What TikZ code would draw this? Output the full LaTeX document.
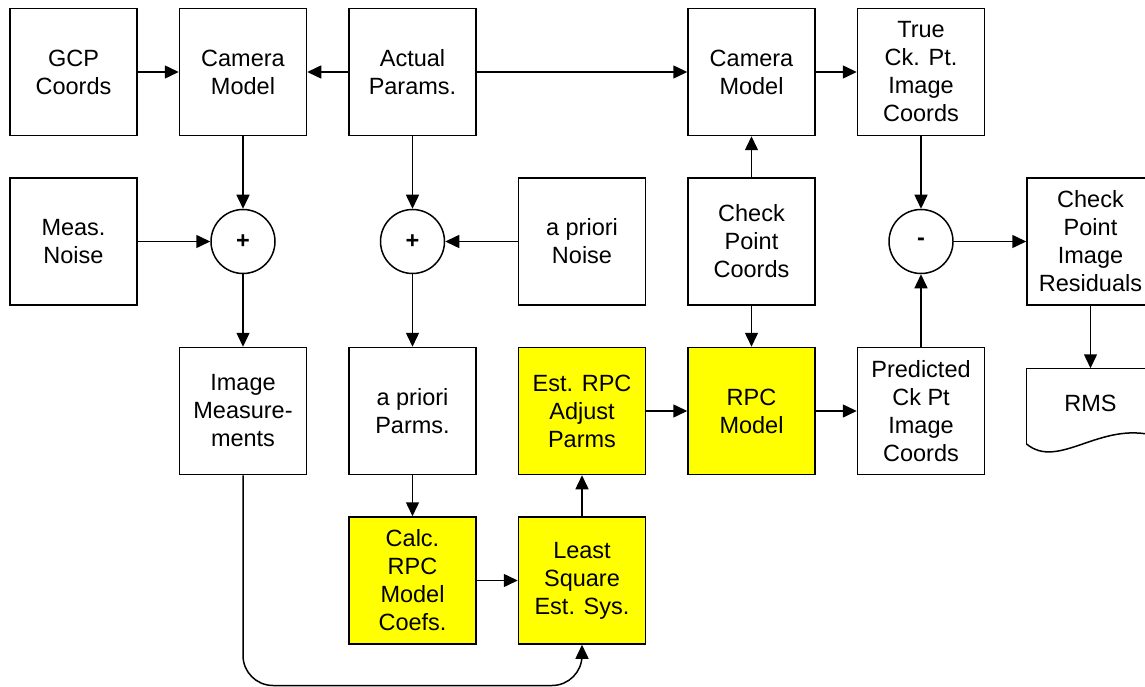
\documentclass[tikz,border=0pt]{standalone}
\usepackage{fontspec}
\setmainfont{Liberation Sans}
\usetikzlibrary{arrows.meta,positioning}
\definecolor{RpcYellow}{RGB}{255,255,0}
\tikzset{
  block/.style={draw=black, fill=white, line width=1.5pt, minimum width=127pt,
    minimum height=127pt, inner sep=2pt, align=center,
    font=\fontsize{23.5}{28}\selectfont},
  rpcblock/.style={block, fill=RpcYellow},
  sumnode/.style={draw=black, circle, line width=1.5pt, minimum size=64pt,
    inner sep=0pt, font=\fontsize{23.5}{28}\selectfont\bfseries},
  docnode/.style={line width=1.5pt, minimum width=127pt, minimum height=74pt,
    inner sep=0pt, align=center, font=\fontsize{23.5}{28}\selectfont},
  arrow/.style={-{Triangle[length=14pt,width=13pt]}, line width=1.5pt}
}

\begin{document}
\begin{tikzpicture}[x=1pt,y=-1pt,node distance=41pt]
      \useasboundingbox (0,0) rectangle (1145,687);
      \node[block] (imeas) at (243,411) {Image\\Measure-\\ments};
      \node[block,right=of imeas] (apparm) {a priori\\Parms.};
      \node[rpcblock,right=of apparm] (est) {Est. RPC\\Adjust\\Parms};
      \node[rpcblock,right=of est] (rpc) {RPC\\Model};
      \node[block,right=of rpc] (pred) {Predicted\\Ck Pt\\Image\\Coords};
      \node[docnode,right=of pred,yshift=5pt] (rms) {\raisebox{6pt}{RMS}};
      \node[rpcblock,below=of apparm] (calc) {Calc.\\RPC\\Model\\Coefs.};
      \node[rpcblock,below=of est] (lsq) {Least\\Square\\Est. Sys.};
      \node[block,above=of rpc] (chk) {Check\\Point\\Coords};
      \node[block,above=of est] (apn) {a priori\\Noise};
      \node[block,above=of chk] (cam2) {Camera\\Model};
      \node[block,right=of cam2] (true) {True\\Ck. Pt.\\Image\\Coords};
      \node[block] (res) at (rms |- chk) {Check\\Point\\Image\\Residuals};
      \node[block] (act) at (apparm |- cam2) {Actual\\Params.};
      \node[block,left=of act] (cam1) {Camera\\Model};
      \node[block,left=of cam1] (gcp) {GCP\\Coords};
      \node[block] (mnoise) at (gcp |- chk) {Meas.\\Noise};
      \node[sumnode] (plus1) at (imeas |- chk) {+};
      \node[sumnode] (plus2) at (apparm |- chk) {+};
      \node[sumnode] (minus) at (pred |- chk) {-};
      \draw[line width=1.5pt] (rms.south west) -- (rms.north west) -- (rms.north east)
        -- ([yshift=8pt]rms.south east);
      \draw[line width=1.5pt] (rms.south west) .. controls +(32,27) and +(-55,-15)
        .. ([yshift=8pt]rms.south east);
      \draw[arrow] (gcp) -- (cam1);
      \draw[arrow] (act) -- (cam1);
      \draw[arrow] (act) -- (cam2);
      \draw[arrow] (cam2) -- (true);
      \draw[arrow] (cam1) -- (plus1);
      \draw[arrow] (mnoise) -- (plus1);
      \draw[arrow] (plus1) -- (imeas);
      \draw[arrow] (act) -- (plus2);
      \draw[arrow] (apn) -- (plus2);
      \draw[arrow] (plus2) -- (apparm);
      \draw[arrow] (apparm) -- (calc);
      \draw[arrow] (calc) -- (lsq);
      \draw[arrow] (lsq) -- (est);
      \draw[arrow] (est) -- (rpc);
      \draw[arrow] (chk) -- (cam2);
      \draw[arrow] (chk) -- (rpc);
      \draw[arrow] (rpc) -- (pred);
      \draw[arrow] (pred) -- (minus);
      \draw[arrow] (true) -- (minus);
      \draw[arrow] (minus) -- (res);
      \draw[arrow] (res) -- (rms);
      \draw[arrow,rounded corners=30pt] (imeas.south) -- (imeas |- 0,685.5) -| (lsq.south);
    \end{tikzpicture}
\end{document}
